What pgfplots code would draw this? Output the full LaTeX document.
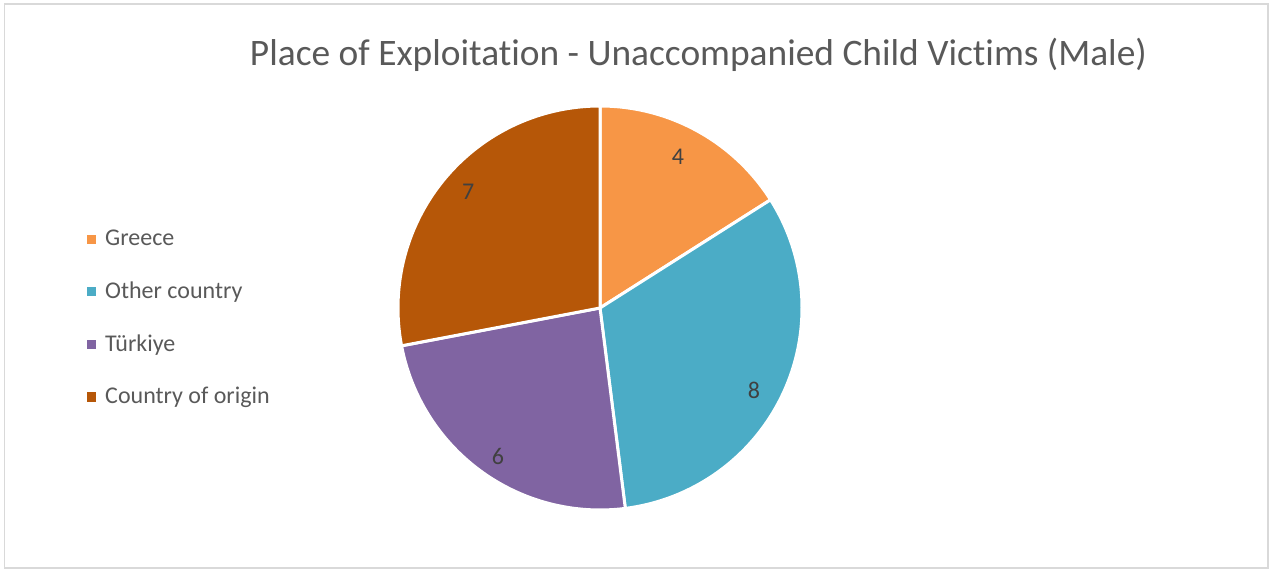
\documentclass[border=0pt]{standalone}
\usepackage{pgfplots}
\usepackage{pgfplotstable}
\pgfplotsset{compat=1.18}
\usepackage{fontspec}
\setmainfont[Ligatures=NoCommon]{Carlito}
\definecolor{cA}{HTML}{F79646}
\definecolor{cB}{HTML}{4BACC6}
\definecolor{cC}{HTML}{8064A2}
\definecolor{cD}{HTML}{B65708}
\definecolor{textgray}{HTML}{595959}
\definecolor{labgray}{HTML}{404040}
\definecolor{bordergray}{HTML}{D9D9D9}

% value, colour, and data-label position (axis units, pie radius = 1)
\pgfplotstableread{
name value col lx ly
Greece 4 cA 0.386 0.748
{Other country} 8 cB 0.762 -0.406
Türkiye 6 cC -0.505 -0.733
{Country of origin} 7 cD -0.653 0.574
}\piedata

\begin{document}
\begin{tikzpicture}[x=0.5pt,y=0.5pt]
\useasboundingbox (0,0) rectangle (1273,571);
\draw[bordergray, line width=0.75pt] (4.5,3) rectangle (1268,567);
\node[font=\fontsize{18.7}{22}\selectfont, text=textgray, anchor=base] at (698.5,505) {Place of Exploitation - Unaccompanied Child Victims (Male)};
% total
\def\total{0}
\pgfplotstablegetrowsof{\piedata}
\pgfmathtruncatemacro{\nrows}{\pgfplotsretval-1}
\pgfplotsforeachungrouped \i in {0,...,\nrows}{%
  \pgfplotstablegetelem{\i}{value}\of\piedata
  \pgfmathsetmacro{\total}{\total+\pgfplotsretval}%
}
\begin{axis}[
  at={(300pt,131.5pt)}, anchor=center,
  width=202pt, height=202pt, scale only axis,
  hide axis, clip=false,
  xmin=-1, xmax=1, ymin=-1, ymax=1,
  legend style={at={(-0.772,0.474)}, anchor=west, draw=none, fill=none,
    font=\fontsize{12}{14}\selectfont, text=textgray, inner sep=0pt,
    row sep=12.5pt, cells={anchor=west}},
  legend image code/.code={\fill[#1, draw=none] (0pt,-2.3pt) rectangle (4.6pt,2.3pt); \path (6.6pt,0pt);},
]
\def\cum{0}
\pgfplotsforeachungrouped \i in {0,...,\nrows}{%
  \pgfplotstablegetelem{\i}{value}\of\piedata \let\v\pgfplotsretval
  \pgfplotstablegetelem{\i}{col}\of\piedata \let\c\pgfplotsretval
  \pgfplotstablegetelem{\i}{name}\of\piedata \let\n\pgfplotsretval
  \pgfplotstablegetelem{\i}{lx}\of\piedata \let\lx\pgfplotsretval
  \pgfplotstablegetelem{\i}{ly}\of\piedata \let\ly\pgfplotsretval
  \pgfmathsetmacro{\a}{90-360*\cum/\total}%
  \pgfmathsetmacro{\b}{90-360*(\cum+\v)/\total}%
  \pgfmathsetmacro{\cum}{\cum+\v}%
  \edef\temp{%
    \noexpand\addplot[fill=\c, draw=white, line width=1.5pt, domain=\b:\a, samples=90, variable=\noexpand\t]
      ({cos(\noexpand\t)},{sin(\noexpand\t)}) -- (axis cs:0,0) -- cycle;
    \noexpand\addlegendentry{\n}
    \noexpand\node[font=\noexpand\fontsize{12}{14}\noexpand\selectfont, text=labgray] at (axis cs:\lx,\ly) {\v};
  }%
  \temp
}
\end{axis}
\end{tikzpicture}
\end{document}
